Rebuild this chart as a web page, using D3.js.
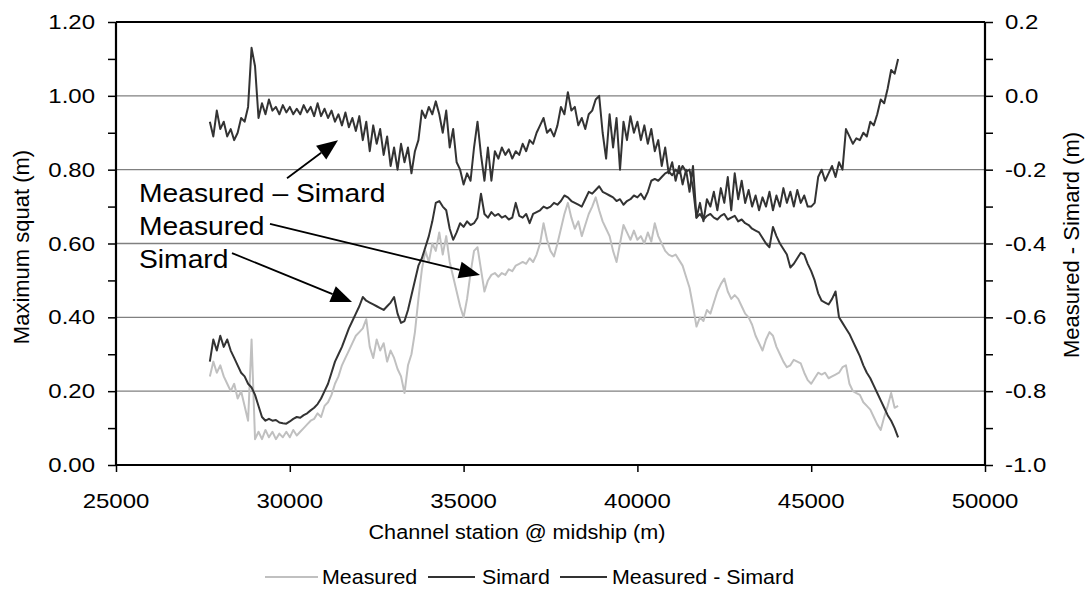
<!DOCTYPE html>
<html><head><meta charset="utf-8">
<script src="https://cdn.jsdelivr.net/npm/d3@7"></script>
<style>body{margin:0;background:#fff} text{font-family:"Liberation Sans",Arial,sans-serif;fill:#000}</style>
</head><body><svg id="c" width="1087" height="589"></svg>
<script>
// ---- data ----
const stations = [
27700,27800,27900,28000,28100,28200,28300,28400,28500,28600,
28700,28800,28900,29000,29100,29200,29300,29400,29500,29600,
29700,29800,29900,30000,30100,30200,30300,30400,30500,30600,
30700,30800,30900,31000,31100,31200,31300,31400,31500,31600,
31700,31800,31900,32000,32100,32200,32300,32400,32500,32600,
32700,32800,32900,33000,33100,33200,33300,33400,33500,33600,
33700,33800,33900,34000,34100,34200,34300,34400,34500,34600,
34700,34800,34900,35000,35100,35200,35300,35400,35500,35600,
35700,35800,35900,36000,36100,36200,36300,36400,36500,36600,
36700,36800,36900,37000,37100,37200,37300,37400,37500,37600,
37700,37800,37900,38000,38100,38200,38300,38400,38500,38600,
38700,38800,38900,39000,39100,39200,39300,39400,39500,39600,
39700,39800,39900,40000,40100,40200,40300,40400,40500,40600,
40700,40800,40900,41000,41100,41200,41300,41400,41500,41600,
41700,41800,41900,42000,42100,42200,42300,42400,42500,42600,
42700,42800,42900,43000,43100,43200,43300,43400,43500,43600,
43700,43800,43900,44000,44100,44200,44300,44400,44500,44600,
44700,44800,44900,45000,45100,45200,45300,45400,45500,45600,
45700,45800,45900,46000,46100,46200,46300,46400,46500,46600,
46700,46800,46900,47000,47100,47200,47300,47400,47500];

const measured = [
.24,.28,.25,.27,.24,.22,.20,.22,.18,.20,
.16,.12,.34,.07,.09,.07,.095,.075,.09,.07,
.085,.075,.09,.075,.095,.08,.09,.10,.11,.12,
.125,.14,.13,.16,.17,.19,.22,.24,.27,.29,
.31,.33,.35,.36,.37,.395,.32,.29,.34,.31,
.33,.28,.31,.29,.26,.24,.195,.27,.30,.36,
.45,.53,.58,.55,.60,.58,.63,.57,.62,.55,
.51,.47,.43,.40,.45,.52,.58,.59,.53,.47,
.50,.515,.52,.51,.52,.515,.53,.525,.54,.545,
.55,.545,.56,.55,.57,.60,.655,.61,.58,.565,
.60,.64,.68,.71,.67,.64,.66,.62,.65,.68,
.70,.725,.69,.66,.64,.62,.58,.55,.60,.65,
.63,.61,.635,.61,.62,.60,.63,.605,.655,.62,
.60,.58,.57,.565,.57,.555,.54,.51,.48,.43,
.375,.40,.39,.42,.41,.44,.47,.49,.505,.47,
.45,.46,.45,.43,.41,.40,.38,.35,.33,.31,
.34,.36,.35,.32,.30,.28,.265,.27,.285,.28,
.275,.25,.23,.22,.235,.25,.245,.25,.235,.24,
.245,.25,.265,.27,.22,.20,.195,.19,.17,.16,
.15,.13,.11,.095,.13,.16,.195,.155,.16];

const simard = [
.28,.34,.31,.35,.32,.34,.31,.29,.27,.25,
.24,.22,.21,.19,.16,.13,.12,.125,.12,.122,
.115,.113,.112,.118,.125,.13,.128,.135,.14,.148,
.155,.165,.18,.20,.22,.25,.28,.30,.32,.345,
.37,.39,.41,.43,.455,.445,.44,.435,.43,.425,
.42,.43,.44,.455,.41,.385,.39,.42,.46,.50,
.54,.56,.59,.62,.66,.71,.715,.70,.69,.64,
.61,.63,.655,.645,.66,.65,.655,.67,.735,.68,
.67,.685,.675,.68,.67,.675,.665,.67,.71,.675,
.67,.68,.655,.68,.685,.69,.70,.695,.70,.71,
.705,.715,.73,.725,.715,.71,.705,.70,.72,.74,
.735,.745,.755,.74,.735,.73,.725,.715,.72,.705,
.715,.72,.73,.725,.735,.72,.74,.77,.775,.77,
.78,.79,.795,.785,.80,.79,.81,.795,.80,.75,
.67,.68,.665,.675,.68,.67,.665,.675,.68,.665,
.67,.675,.66,.665,.655,.65,.64,.635,.63,.615,
.60,.59,.645,.62,.60,.585,.57,.535,.545,.56,
.575,.57,.545,.525,.50,.465,.445,.44,.435,.45,
.47,.40,.385,.37,.355,.335,.315,.295,.27,.25,
.235,.215,.195,.175,.155,.135,.12,.10,.075];

const difference = [
-.07,-.11,-.04,-.09,-.07,-.11,-.09,-.12,-.10,-.06,
-.07,-.03,.13,.08,-.06,-.02,-.05,-.01,-.04,-.03,
-.05,-.025,-.045,-.03,-.05,-.035,-.05,-.025,-.045,-.03,
-.055,-.02,-.055,-.035,-.06,-.04,-.07,-.05,-.08,-.045,
-.085,-.06,-.095,-.055,-.12,-.07,-.15,-.08,-.13,-.09,
-.16,-.11,-.19,-.14,-.20,-.13,-.18,-.14,-.21,-.15,
-.12,-.04,-.06,-.03,-.05,-.015,-.05,-.10,-.04,-.14,
-.09,-.18,-.20,-.24,-.21,-.23,-.14,-.07,-.16,-.23,
-.14,-.23,-.15,-.17,-.14,-.16,-.145,-.17,-.15,-.16,
-.13,-.15,-.12,-.13,-.10,-.08,-.06,-.10,-.09,-.11,
-.08,-.03,-.05,.01,-.04,-.03,-.08,-.06,-.09,-.05,
-.04,-.01,0,-.10,-.17,-.05,-.14,-.06,-.20,-.07,
-.12,-.055,-.10,-.07,-.12,-.08,-.13,-.09,-.15,-.12,
-.19,-.14,-.21,-.18,-.23,-.19,-.24,-.20,-.26,-.19,
-.33,-.29,-.34,-.28,-.30,-.26,-.31,-.25,-.29,-.22,
-.31,-.21,-.28,-.23,-.29,-.255,-.30,-.27,-.31,-.275,
-.30,-.26,-.31,-.27,-.30,-.25,-.29,-.26,-.30,-.255,
-.29,-.27,-.30,-.30,-.29,-.22,-.20,-.23,-.21,-.19,
-.22,-.18,-.20,-.09,-.11,-.13,-.115,-.12,-.10,-.11,
-.07,-.08,-.05,-.01,-.02,.02,.07,.06,.10];

const xTicks = [25000,30000,35000,40000,45000,50000];
const yLeftTicks = [0,0.2,0.4,0.6,0.8,1.0,1.2];
const yRightTicks = [-1.0,-0.8,-0.6,-0.4,-0.2,0.0,0.2];
const seriesNames = ["Measured","Simard","Measured - Simard"];
const seriesColors = ["#c0c0c0","#333333","#333333"];
// annotations: [label, textX, textY, lineStartX, lineStartY, tipX, tipY] in left-axis data units
const annotations = [
  ["Measured \u2013 Simard", 25662, 0.712, 29920, 0.777, 31387, 0.880],
  ["Measured", 25662, 0.623, 29430, 0.653, 35472, 0.515],
  ["Simard", 25662, 0.534, 28337, 0.574, 31790, 0.4415]
];

// ---- chart ----
const svg = d3.select("#c");
const L = 116, R = 985, T = 22, B = 465;
const x = d3.scaleLinear().domain([25000,50000]).range([L,R]);
const yL = d3.scaleLinear().domain([0,1.2]).range([B,T]);
const yR = d3.scaleLinear().domain([-1,0.2]).range([B,T]);

function txt(g, s, px, py, size, anchor, sx, rot){
  const t = g.append("text").text(s)
    .attr("font-size", size).attr("text-anchor", anchor||"start");
  let tr = `translate(${px},${py})`;
  if (rot) tr += ` rotate(${rot})`;
  if (sx && sx!==1) tr += rot ? ` scale(${sx},1)` : ` scale(${sx},1)`;
  t.attr("transform", tr);
  return t;
}

// gridlines
svg.append("g").selectAll("line").data(yLeftTicks.filter(d=>d>0 && d<1.2)).join("line")
  .attr("x1",L).attr("x2",R).attr("y1",d=>yL(d)).attr("y2",d=>yL(d))
  .attr("stroke","#808080").attr("stroke-width",1.3);

// top border
svg.append("line").attr("x1",L).attr("x2",R).attr("y1",yL(1.2)).attr("y2",yL(1.2))
  .attr("stroke","#000").attr("stroke-width",2);

// series
const line = (ys) => d3.line().x((d,i)=>x(stations[i])).y(d=>ys(d));
svg.append("path").datum(measured).attr("d", line(yL))
  .attr("fill","none").attr("stroke",seriesColors[0]).attr("stroke-width",2).attr("stroke-linejoin","round");
svg.append("path").datum(simard).attr("d", line(yL))
  .attr("fill","none").attr("stroke",seriesColors[1]).attr("stroke-width",2).attr("stroke-linejoin","round");
svg.append("path").datum(difference).attr("d", line(yR))
  .attr("fill","none").attr("stroke",seriesColors[2]).attr("stroke-width",2).attr("stroke-linejoin","round");

// axes
const minor = d3.range(0,13).map(i=>i/10);
const aL = svg.append("g").attr("transform",`translate(${L},0)`)
  .call(d3.axisLeft(yL).tickValues(minor).tickSize(8).tickFormat(""));
const aR = svg.append("g").attr("transform",`translate(${R},0)`)
  .call(d3.axisRight(yR).tickValues(d3.range(0,13).map(i=>-1+i/10)).tickSize(8).tickFormat(""));
const aB = svg.append("g").attr("transform",`translate(0,${B})`)
  .call(d3.axisBottom(x).tickValues(xTicks).tickSize(7).tickFormat(""));
[aL,aR,aB].forEach(a=>{
  a.select(".domain").attr("stroke","#000").attr("stroke-width",2.2);
  a.selectAll(".tick line").attr("stroke","#000").attr("stroke-width",1.5);
});
aL.select(".domain").attr("d",`M-0,${B}V${T}`);
aR.select(".domain").attr("d",`M0,${B}V${T}`);
aB.select(".domain").attr("d",`M${L},0H${R}`);

// tick labels
const gl = svg.append("g");
yLeftTicks.forEach(v=>txt(gl, v.toFixed(2), 95, yL(v)+7, 20, "end", 1.2));
yRightTicks.forEach(v=>txt(gl, v.toFixed(1).replace("\u2212","-"), 1005, yR(v)+7, 20, "start", 1.2));
xTicks.forEach(v=>txt(gl, String(v), x(v), 508, 20, "middle", 1.2));

// axis titles
txt(gl, "Channel station @ midship (m)", 517, 539, 21, "middle", 1.03);
txt(gl, "Maximum squat (m)", 29, 247, 22, "middle", 1, -90);
txt(gl, "Measured - Simard (m)", 1079, 245, 22, "middle", 1, -90);

// annotations
const ga = svg.append("g");
annotations.forEach(a=>{
  txt(ga, a[0], x(a[1]), yL(a[2]), 25, "start", 1.13);
  const x1=x(a[3]), y1=yL(a[4]), x2=x(a[5]), y2=yL(a[6]);
  const ang = Math.atan2(y2-y1, x2-x1);
  const hl = 21, hw = 8.5;
  const bx = x2 - hl*Math.cos(ang), by = y2 - hl*Math.sin(ang);
  ga.append("line").attr("x1",x1).attr("y1",y1).attr("x2",bx).attr("y2",by)
    .attr("stroke","#000").attr("stroke-width",1.8);
  const px = -Math.sin(ang), py = Math.cos(ang);
  ga.append("path").attr("d",`M${x2},${y2}L${bx+px*hw},${by+py*hw}L${bx-px*hw},${by-py*hw}Z`)
    .attr("fill","#000");
});

// legend
const legend = [
  {x1:265, x2:318, tx:322},
  {x1:428, x2:475, tx:482},
  {x1:560, x2:607, tx:612}
];
const gLeg = svg.append("g");
legend.forEach((l,i)=>{
  gLeg.append("line").attr("x1",l.x1).attr("x2",l.x2).attr("y1",577).attr("y2",577)
    .attr("stroke",seriesColors[i]).attr("stroke-width",2);
  txt(gLeg, seriesNames[i], l.tx, 584, 21, "start", 1.02);
});
</script></body></html>
